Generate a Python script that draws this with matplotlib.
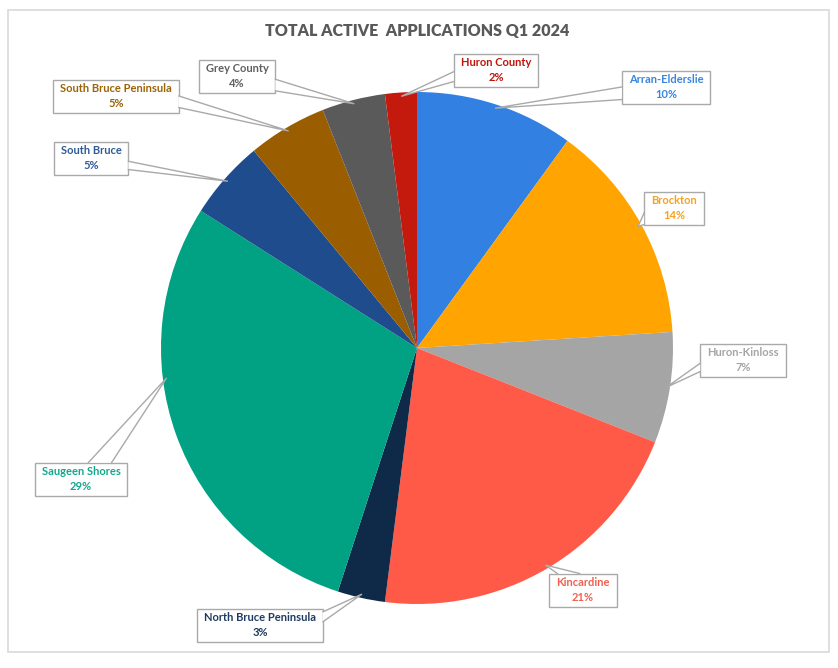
# Total active applications Q1 2024 - pie with callout labels
import numpy as np
import matplotlib.pyplot as plt
from matplotlib.patches import Rectangle, Polygon

plt.rcParams['font.family'] = ['Lato', 'DejaVu Sans']

# data (clockwise from 12 o'clock)
names = ['Arran-Elderslie', 'Brockton', 'Huron-Kinloss', 'Kincardine',
         'North Bruce Peninsula', 'Saugeen Shores', 'South Bruce',
         'South Bruce Peninsula', 'Grey County', 'Huron County']
shares = [10, 14, 7, 21, 3, 29, 5, 5, 4, 2]
slice_colors = ['#3180E2', '#FFA400', '#A5A5A5', '#FF5A48', '#0E2A48',
                '#00A283', '#1E4C8C', '#9A5E00', '#5A5A5A', '#C4190D']
label_colors = ['#3A86DC', '#F5A21E', '#A5A5A5', '#F0604F', '#1F3A5F',
                '#14A88A', '#2E5A98', '#9C6306', '#5F5F5F', '#C0140A']

# callout layout in pixels (y down): box centre, side the pointer leaves from,
# span along that side, and a shift of the pointer tip in degrees
label_pos = [(666, 87), (674, 208), (743, 360), (583, 590), (260, 625),
             (81, 479), (91, 158), (116, 96), (237, 76), (496, 70)]
pointer_side = ['left', 'left', 'left', 'top', 'right',
                'top', 'right', 'right', 'right', 'left']
pointer_span = [(0.5, 0.88), (0.65, 1.0), (0.6, 0.85), (0.12, 0.45), (0.1, 0.4),
                (0.58, 0.83), (0.6, 0.85), (0.5, 0.85), (0.6, 0.95), (0.55, 0.85)]
tip_shift = [0, 0, 0, 0, 0, 13, 0, 0, 0, 0]

W, H = 838, 668
cx, cy, r = 417, 348, 256

fig = plt.figure(figsize=(W / 100, H / 100), dpi=100)
ax = fig.add_axes([0, 0, 1, 1])

# inverted y axis: data angles grow clockwise on screen, -90 is 12 o'clock
wedges, _ = ax.pie(shares, colors=slice_colors, startangle=-90, counterclock=True,
                   center=(cx, cy), radius=r, wedgeprops=dict(linewidth=0))
ax.set_xlim(0, W)
ax.set_ylim(H, 0)
ax.set_aspect('auto')
ax.axis('off')

# outer frame
ax.add_patch(Rectangle((8, 10), 821, 642, fill=False, edgecolor='#D9D9D9', lw=1.2, zorder=1))

ax.text(417, 31, 'TOTAL ACTIVE  APPLICATIONS Q1 2024', ha='center', va='center',
        fontsize=11.5, fontweight='heavy', color='#595959')

fig.canvas.draw()
renderer = fig.canvas.get_renderer()

for i, w in enumerate(wedges):
    bx, by = label_pos[i]
    t = ax.text(bx, by, f'{names[i]}\n{shares[i]}%', ha='center', va='center',
                fontsize=8, fontweight='bold', color=label_colors[i],
                linespacing=1.45, zorder=6)
    ext = t.get_window_extent(renderer)
    bw = ext.width + 14
    bh = 33
    x0, y0 = bx - bw / 2, by - bh / 2
    ax.add_patch(Rectangle((x0, y0), bw, bh, facecolor='white',
                           edgecolor='#A9A9A9', lw=1, zorder=3))

    # pointer base on the box
    f1, f2 = pointer_span[i]
    side = pointer_side[i]
    if side == 'left':
        p1, p2 = (x0, y0 + f1 * bh), (x0, y0 + f2 * bh)
    elif side == 'right':
        p1, p2 = (x0 + bw, y0 + f1 * bh), (x0 + bw, y0 + f2 * bh)
    elif side == 'top':
        p1, p2 = (x0 + f1 * bw, y0), (x0 + f2 * bw, y0)
    else:
        p1, p2 = (x0 + f1 * bw, y0 + bh), (x0 + f2 * bw, y0 + bh)

    # pointer tip on the slice edge
    ang = np.deg2rad((w.theta1 + w.theta2) / 2 + tip_shift[i])
    tip = (cx + 0.985 * r * np.cos(ang), cy + 0.985 * r * np.sin(ang))

    ax.add_patch(Polygon([p1, tip, p2], closed=True, facecolor='white',
                         edgecolor='none', zorder=4))
    ax.plot([p1[0], tip[0], p2[0]], [p1[1], tip[1], p2[1]],
            color='#A9A9A9', lw=1, zorder=5, solid_joinstyle='miter')

fig.savefig('out.png', dpi=100, facecolor='white')
